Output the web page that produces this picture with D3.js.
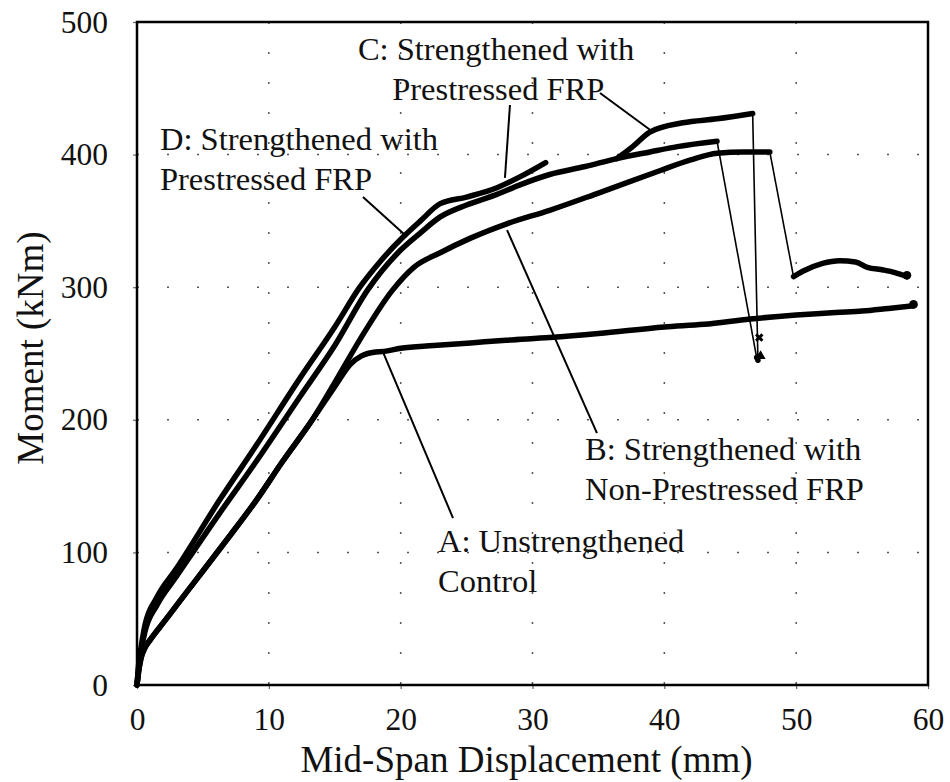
<!DOCTYPE html>
<html>
<head>
<meta charset="utf-8">
<title>Moment vs Mid-Span Displacement</title>
<script src="https://cdn.jsdelivr.net/npm/d3@7"></script>
<style>
  body { margin: 0; background: #fff; }
  svg text { font-family: "Liberation Serif", "Times New Roman", serif; fill: #111; }
</style>
</head>
<body>
<script>
// ---- data (mm, kNm) ----
var xTicks = [0, 10, 20, 30, 40, 50, 60];
var yTicks = [0, 100, 200, 300, 400, 500];

// A: unstrengthened control
var curveA = [[0,0],[0.15,12],[0.3,20],[0.6,28],[1,34],[2,47],[3,60],[4,73],[5,86],[7,112],[9.1,140],
  [11,168],[13.3,200],[15,225],[16.2,242],[17,248],[17.5,250],[19,252],[20,254],[22.5,256],[25.3,258],
  [28,260],[31.3,262],[35,265],[40,270],[43,272],[46.5,276],[50,279],[53,281],[55,282],[57,284],[58.9,286]];

// B: non-prestressed FRP (before and after the drop)
var curveB1 = [[0,0],[0.15,12],[0.3,20],[0.6,28],[1,34],[2,47],[3,60],[4,73],[5,86],[7,112],[9.1,140],
  [11,168],[13.3,200],[15,228],[17,262],[19.4,298],[21,315],[23,326],[25.3,337],[28.1,348],[31.3,358],
  [35,371],[39.7,388],[42,396],[44,401],[46,402],[48,402]];
var curveB2 = [[49.8,308],[50.5,312],[52,318],[53.3,320],[54.5,319],[55.4,315],[56.6,313],[57.5,311],[58.4,308]];

// C: prestressed FRP
var curveC1 = [[0,0],[0.15,15],[0.3,25],[0.6,40],[1.5,60],[3,82],[6.3,130],[9,168],[12.4,218],[15,256],
  [17.5,298],[20,328],[21.5,341],[23,353],[25,362],[27.3,370],[29,377],[31.3,385],[34,391],[36.4,397],
  [38.9,402],[41,406],[44,410]];
var curveC2 = [[47,247]];

// D: prestressed FRP (with a gap in the record)
var curveD1 = [[0,0],[0.15,18],[0.3,28],[0.6,45],[1.5,66],[3,88],[6.3,140],[9,180],[12.4,232],[15,270],
  [16.9,300],[18.5,320],[20.2,338],[21.5,350],[23,363],[25,368],[27.3,375],[29,383],[31,394]];
var curveD2 = [[36.4,397],[37.6,406],[38.9,417],[41.4,424],[44,427],[46.7,431]];
var curveD3 = [[47.1,245]];

// runs of one test; joined runs get a thin connecting line
var tests = [
  {name: "A", runs: [curveA], joined: false},
  {name: "B", runs: [curveB1, curveB2], joined: true},
  {name: "C", runs: [curveC1, curveC2], joined: true},
  {name: "D1", runs: [curveD1], joined: false},
  {name: "D2", runs: [curveD2, curveD3], joined: true}
];

// failure-point markers
var failMarks = [
  {p: [47.2, 262], type: "x"},
  {p: [47.3, 248], type: "tri"},
  {p: [58.9, 287], type: "dot"},
  {p: [58.4, 309], type: "dot"}
];

// labels, anchored in data units
var labels = [
  {lines: ["C: Strengthened with", "Prestressed FRP"], x: 16.76, y: 471.3, dx2: 2.6},
  {lines: ["D: Strengthened with", "Prestressed FRP"], x: 1.74, y: 403.5, dx2: 0},
  {lines: ["B: Strengthened with", "Non-Prestressed FRP"], x: 33.98, y: 169.7, dx2: 0},
  {lines: ["A: Unstrengthened", "Control"], x: 22.83, y: 100.3, dx2: 0}
];
var leaders = [
  [[17.14, 368], [20.48, 338]],
  [[28.29, 437.4], [27.91, 382.4]],
  [[35.12, 446.5], [39.14, 417]],
  [[28.07, 343.1], [34.89, 190]],
  [[18.66, 251], [23.97, 125.9]]
];

// ---- layout ----
var width = 950, height = 782;
var margin = {left: 137, top: 22, right: 22, bottom: 97};

var svg = d3.select("body").append("svg")
  .attr("width", width)
  .attr("height", height);

var x = d3.scaleLinear().domain([0, 60]).range([margin.left, width - margin.right]);
var y = d3.scaleLinear().domain([0, 500]).range([height - margin.bottom, margin.top]);

// dotted grid
var grid = svg.append("g").attr("stroke", "#555").attr("stroke-width", 1.5)
  .attr("stroke-dasharray", "2 28");
grid.selectAll("line.h").data(yTicks.slice(1, -1)).enter().append("line")
  .attr("class", "h")
  .attr("x1", x(0)).attr("x2", x(60))
  .attr("y1", function(d){ return y(d); }).attr("y2", function(d){ return y(d); });
grid.selectAll("line.v").data(xTicks.slice(1, -1)).enter().append("line")
  .attr("class", "v")
  .attr("y1", y(500)).attr("y2", y(0))
  .attr("x1", function(d){ return x(d); }).attr("x2", function(d){ return x(d); });

// axes
var xAxis = svg.append("g")
  .attr("transform", "translate(0," + y(0) + ")")
  .call(d3.axisBottom(x).tickValues(xTicks).tickSize(4).tickPadding(19));
var yAxis = svg.append("g")
  .attr("transform", "translate(" + x(0) + ",0)")
  .call(d3.axisLeft(y).tickValues(yTicks).tickSize(4).tickPadding(25));
[xAxis, yAxis].forEach(function(g){
  g.select(".domain").remove();
  g.selectAll(".tick line").attr("stroke", "#666").attr("stroke-width", 1.2);
  g.selectAll(".tick text").attr("font-size", 31.5).attr("fill", "#111")
    .style("font-family", "'Liberation Serif', 'Times New Roman', serif");
});

// frame
svg.append("rect")
  .attr("x", x(0)).attr("y", y(500))
  .attr("width", x(60) - x(0)).attr("height", y(0) - y(500))
  .attr("fill", "none").attr("stroke", "#000").attr("stroke-width", 2.5);

// axis titles
svg.append("text")
  .attr("x", (x(0) + x(60)) / 2 - 6).attr("y", 772)
  .attr("text-anchor", "middle").attr("font-size", 37)
  .text("Mid-Span Displacement (mm)");
svg.append("text")
  .attr("transform", "translate(43," + 348 + ") rotate(-90)")
  .attr("text-anchor", "middle").attr("font-size", 37)
  .text("Moment (kNm)");

// curves
var line = d3.line().x(function(d){ return x(d[0]); }).y(function(d){ return y(d[1]); });
var smooth = d3.line().curve(d3.curveMonotoneX)
  .x(function(d){ return x(d[0]); }).y(function(d){ return y(d[1]); });

var curves = svg.append("g");
tests.forEach(function(t){
  if (t.joined) {
    for (var i = 0; i < t.runs.length - 1; i++) {
      var a = t.runs[i], b = t.runs[i + 1];
      curves.append("path")
        .attr("d", line([a[a.length - 1], b[0]]))
        .attr("fill", "none").attr("stroke", "#000").attr("stroke-width", 1.6);
    }
  }
  t.runs.forEach(function(run){
    curves.append("path")
      .attr("d", smooth(run))
      .attr("fill", "none").attr("stroke", "#000")
      .attr("stroke-width", 5.5).attr("stroke-linejoin", "round").attr("stroke-linecap", "round");
  });
});

// markers at failure / end points
var symbolOf = {x: d3.symbolCross, tri: d3.symbolTriangle, dot: d3.symbolCircle};
svg.append("g").selectAll("path").data(failMarks).enter().append("path")
  .attr("transform", function(d){
    return "translate(" + x(d.p[0]) + "," + y(d.p[1]) + ")" + (d.type == "x" ? " rotate(45)" : "");
  })
  .attr("d", function(d){ return d3.symbol().type(symbolOf[d.type]).size(d.type == "dot" ? 60 : 45)(); })
  .attr("fill", "#000");

// leaders
svg.append("g").selectAll("line").data(leaders).enter().append("line")
  .attr("x1", function(d){ return x(d[0][0]); }).attr("y1", function(d){ return y(d[0][1]); })
  .attr("x2", function(d){ return x(d[1][0]); }).attr("y2", function(d){ return y(d[1][1]); })
  .attr("stroke", "#000").attr("stroke-width", 2);

// labels
var lab = svg.append("g").selectAll("text").data(labels).enter().append("text")
  .attr("font-size", 32.5)
  .attr("x", function(d){ return x(d.x); })
  .attr("y", function(d){ return y(d.y); });
lab.append("tspan").text(function(d){ return d.lines[0]; });
lab.append("tspan")
  .attr("x", function(d){ return x(d.x + d.dx2); })
  .attr("dy", 40)
  .text(function(d){ return d.lines[1]; });
</script>
</body>
</html>
